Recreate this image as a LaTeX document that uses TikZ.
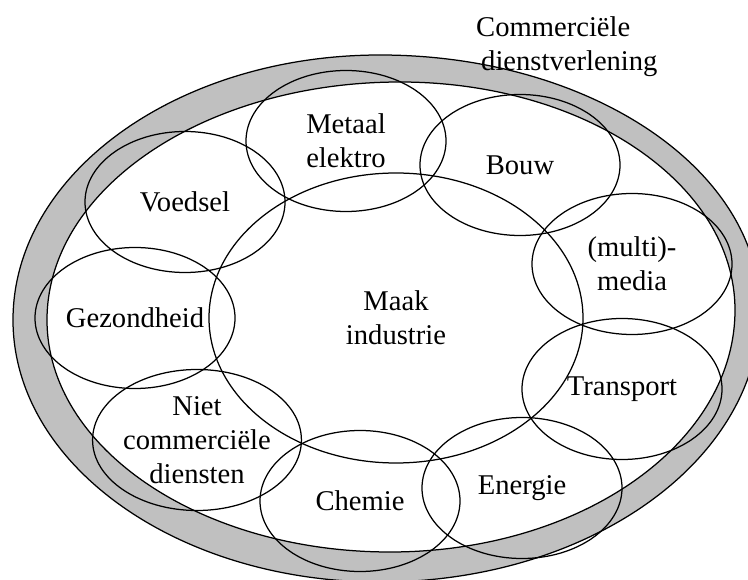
\documentclass[tikz,border=0pt]{standalone}
\usepackage{fontspec}
\setmainfont{Liberation Serif}
\usetikzlibrary{shapes.geometric, positioning}

\definecolor{ringgray}{RGB}{192,192,192}

\begin{document}
\begin{tikzpicture}[
    x=1pt, y=-1pt,
    % Node styles
    sector/.style={
        ellipse, draw=black, line width=1.25pt,
        minimum width=200pt, minimum height=141pt,
        inner sep=0pt, align=center,
        font=\fontsize{28.6}{34}\selectfont,
    },
    core/.style={
        sector, minimum width=374pt, minimum height=290pt,
    },
    ringtext/.style={
        inner sep=0pt, align=left,
        font=\fontsize{28.6}{34}\selectfont,
    },
    ringline/.style={
        draw=black, line width=1.25pt,
    },
]
\useasboundingbox (0,0) rectangle (748,580);

% === Ring: outer and inner edge, four quarter arcs each ===
\def\outerring{(13,320)
    arc[start angle=180, end angle=90,  x radius=367pt, y radius=265pt]
    arc[start angle=90,  end angle=0,   x radius=380pt, y radius=255pt]
    arc[start angle=0,   end angle=-90, x radius=380pt, y radius=272pt]
    arc[start angle=-90, end angle=-180, x radius=367pt, y radius=262pt] -- cycle}
\def\innerring{(47,320)
    arc[start angle=180, end angle=90,  x radius=353pt, y radius=238pt]
    arc[start angle=90,  end angle=0,   x radius=335pt, y radius=228pt]
    arc[start angle=0,   end angle=-90, x radius=345pt, y radius=242pt]
    arc[start angle=-90, end angle=-180, x radius=343pt, y radius=232pt] -- cycle}
\fill[ringgray, even odd rule] \outerring \innerring;
\draw[ringline] \outerring;
\draw[ringline] \innerring;

\node[ringtext, anchor=north west] (comm) at (476,16)
    {Commerciële\\\hspace*{5pt}dienstverlening};

% === Centre ===
\node[core] (maak) at (396,318) {Maak\\industrie};

% === Sectors round the centre ===
\node[sector] (metaal)    at (346,141) {Metaal\\elektro};
\node[sector] (bouw)      at (520,165) {Bouw};
\node[sector] (media)     at (632,264) {(multi)-\\media};
\node[sector] (transport) at (622,389) {Transport};
\node[sector] (energie)   at (522,488) {Energie};
\node[sector] (chemie)    at (360,501) {Chemie};
\node[sector] (niet)      at (197,440) {Niet\\commerciële\\diensten};
\node[sector] (gezond)    at (135,318) {Gezondheid};
\node[sector] (voedsel)   at (185,202) {Voedsel};

\end{tikzpicture}
\end{document}
